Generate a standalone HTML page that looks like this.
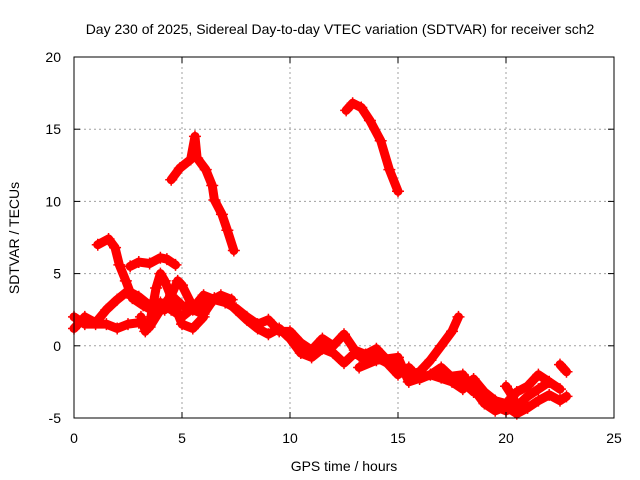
<!DOCTYPE html>
<html><head><meta charset="utf-8"><style>
html,body{margin:0;padding:0;background:#fff;}
svg{display:block;font-family:"Liberation Sans",sans-serif;}
</style></head><body>
<svg id="chart" width="640" height="480">
<rect width="640" height="480" fill="#fff"/>
<text x="340" y="34" font-size="14" text-anchor="middle">Day 230 of 2025, Sidereal Day-to-day VTEC variation (SDTVAR) for receiver sch2</text>
<text x="344" y="471" font-size="14" text-anchor="middle">GPS time / hours</text>
<text transform="translate(19,238) rotate(-90)" font-size="14" text-anchor="middle">SDTVAR / TECUs</text>
<g id="grid"></g><g id="marks"></g><g id="axes"></g>
</svg>
<script>
const xTicks=[0,5,10,15,20,25];
const yTicks=[-5,0,5,10,15,20];
const track1=[[0,1.2],[0.5,2],[1,1.6],[1.5,2.5],[2,3.2],[2.5,3.8],[3,3.4],[3.5,2.8],[4,3],[4.5,2.5],[5,2],[5.5,2.6],[6,3.5],[6.5,3.2],[7,3],[7.5,2.6],[8,2],[8.5,1.5],[9,1.8],[9.5,1],[10,1],[10.5,0.2],[11,-0.3],[11.5,0.5],[12,0],[12.5,0.8],[13,-0.3],[13.5,-0.6],[14,-0.2],[14.5,-1],[15,-1.5],[15.5,-2],[16,-1.8],[16.5,-1],[17,0],[17.5,1],[17.8,2]];
const track2=[[0,2],[0.5,1.5],[1,1.5],[1.5,1.5],[2,1.2],[2.5,1.5],[3,1.6],[3.5,1.3],[4,2.5],[4.5,3.5],[5,2.8],[5.5,2.5],[6,2.2],[6.5,3.3],[7,3.2],[7.5,2.5],[8,1.8],[8.5,1.2],[9,0.8],[9.5,1.2],[10,0.5],[10.5,-0.5],[11,-0.8],[11.5,-0.2],[12,-0.5],[12.5,-1.2],[13,-0.5],[13.5,-1],[14,-0.8],[14.5,-1.2],[15,-2],[15.5,-1.5],[16,-2.3],[16.5,-2],[17,-1.5],[17.5,-2.2],[18,-2.5],[18.5,-3.2],[19,-3.5],[19.5,-4.2],[20,-4.5],[20.5,-4.2],[21,-3.5],[21.5,-3],[22,-2.5],[22.5,-3]];
const track3=[[1.1,7],[1.6,7.4],[1.9,6.8],[2.1,5.6],[2.4,4.5],[2.7,3.3],[3.2,2.8],[3.7,2.4],[4.2,2.5],[4.5,3.5],[4.8,4.5],[5,4.2],[5.4,3],[5.8,2.5],[6.2,3],[6.8,3.5],[7.3,3.2]];
const track4=[[2.6,5.5],[3,5.8],[3.5,5.7],[4,6.1],[4.3,6],[4.7,5.6]];
const track5=[[3.1,2],[3.3,1],[3.5,1.5],[3.8,4],[4,5],[4.2,4.5],[4.6,3],[5,1.5],[5.5,1.2],[6,2]];
const track6=[[4.5,11.5],[4.9,12.3],[5.4,12.9],[5.6,14.5],[5.7,13],[6.1,12.2],[6.4,11.1],[6.5,10.1],[6.85,9.1],[7.1,8],[7.4,6.6]];
const track7=[[12.6,16.3],[12.9,16.8],[13.3,16.5],[13.7,15.6],[14.2,14.2],[14.6,12.2],[15,10.7]];
const track8=[[13.2,-1.5],[14,-1],[15,-0.8],[15.5,-2.5],[16.5,-2],[17.5,-2.5],[18,-3],[18.5,-2.3],[19,-3.2],[19.5,-3.8],[20,-4],[20.5,-3.2],[21,-2.8],[21.5,-2],[22,-2.5]];
const track9=[[17,-2.2],[18,-2],[18.5,-3],[19,-4],[19.5,-4.5],[20,-4.2],[20.5,-4.7],[21,-4.3],[21.5,-3.8],[22,-3.4],[22.5,-3.8],[22.8,-3.5]];
const track10=[[22.5,-1.3],[22.8,-1.8]];
const track11=[[20,-2.8],[20.3,-3.5],[20.6,-4.5]];
const tracks=[track1,track2,track3,track4,track5,track6,track7,track8,track9,track10,track11];
const L=74,R=614,T=57,B=418,X0=0,X1=25,Y0=-5,Y1=20;
const sx=v=>L+(v-X0)/(X1-X0)*(R-L);
const sy=v=>B-(v-Y0)/(Y1-Y0)*(B-T);
const NS="http://www.w3.org/2000/svg";
function mk(tag,attrs,parent){const e=document.createElementNS(NS,tag);for(const k in attrs)e.setAttribute(k,attrs[k]);parent.appendChild(e);return e;}
const grid=document.getElementById('grid'),axes=document.getElementById('axes'),marks=document.getElementById('marks');
xTicks.forEach(t=>{
  if(t>X0&&t<X1){const g=mk('line',{x1:sx(t),x2:sx(t),y1:T,y2:B,stroke:'#a0a0a0','stroke-dasharray':'2,3'},grid);
  
  }
  mk('line',{x1:sx(t),x2:sx(t),y1:B,y2:B-6,stroke:'#000'},axes);
  mk('line',{x1:sx(t),x2:sx(t),y1:T,y2:T+6,stroke:'#000'},axes);
  const tx=mk('text',{x:sx(t),y:B+25,'font-size':14,'text-anchor':'middle'},axes);tx.textContent=t;
  
  
});
yTicks.forEach(t=>{
  if(t>Y0&&t<Y1){const g=mk('line',{x1:L,x2:R,y1:sy(t),y2:sy(t),stroke:'#a0a0a0','stroke-dasharray':'2,3'},grid);
  
  }
  mk('line',{x1:L,x2:L+6,y1:sy(t),y2:sy(t),stroke:'#000'},axes);
  mk('line',{x1:R,x2:R-6,y1:sy(t),y2:sy(t),stroke:'#000'},axes);
  const tx=mk('text',{x:L-13,y:sy(t)+5,'font-size':14,'text-anchor':'end'},axes);tx.textContent=t;
  
  
});
const frame=mk('rect',{x:L,y:T,width:R-L,height:B-T,fill:'none',stroke:'#000'},axes);


tracks.forEach((tr,i)=>{
  const g=mk('g',{},marks);
  
  
  mk('polyline',{points:tr.map(p=>sx(p[0])+','+sy(p[1])).join(' '),fill:'none',stroke:'#ff0000','stroke-width':9,'stroke-linejoin':'round','stroke-linecap':'round'},g);
  tr.forEach(p=>{
    const x=sx(p[0]),y=sy(p[1]);
    mk('path',{d:`M${x-6},${y}H${x+6}M${x},${y-6}V${y+6}`,stroke:'#ff0000','stroke-width':1.5},g);
  });
});
</script>
</body></html>
